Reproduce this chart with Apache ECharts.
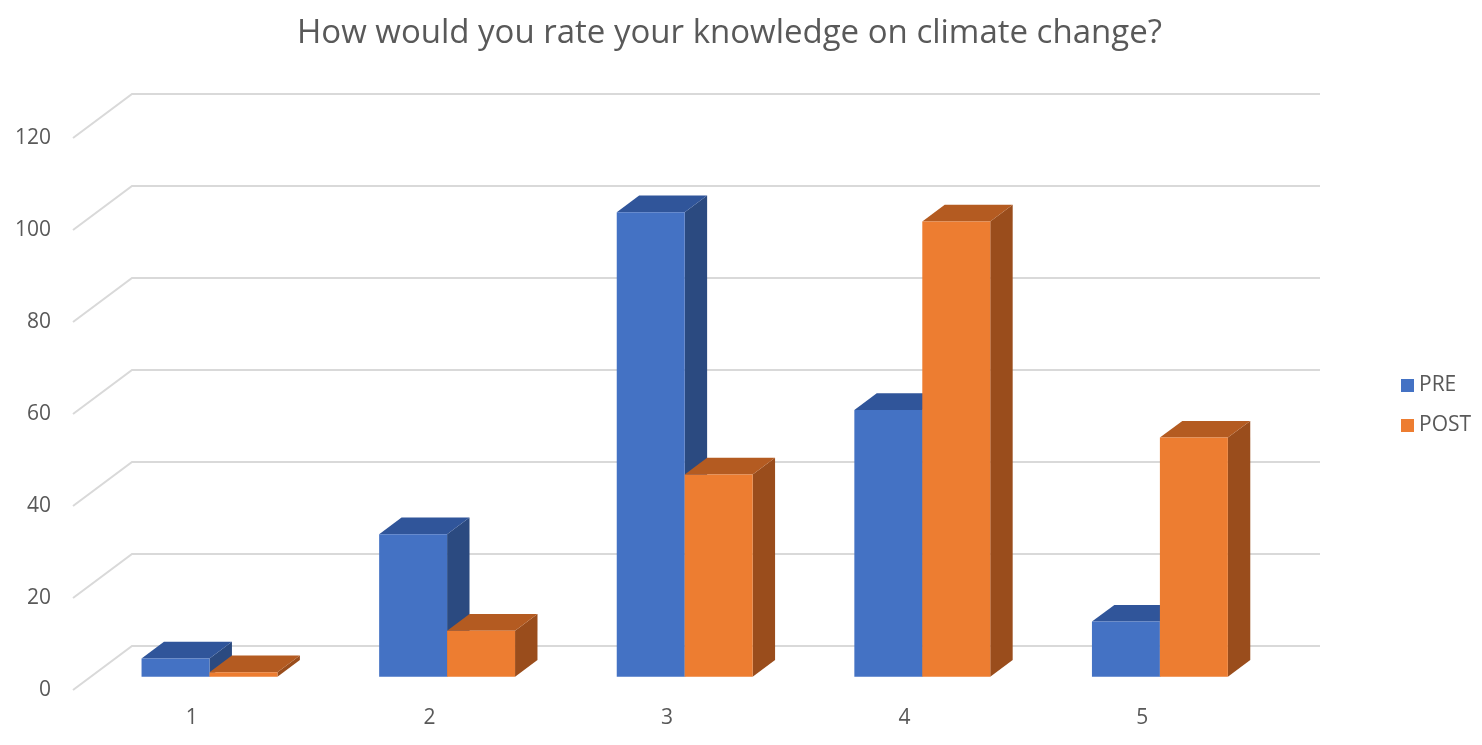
<!DOCTYPE html>
<html>
<head>
<meta charset="utf-8">
<script src="https://cdn.jsdelivr.net/npm/echarts@6/dist/echarts.min.js"></script>
<style>
html,body{margin:0;padding:0;background:#fff;}
#chart{width:1482px;height:745px;}
</style>
</head>
<body>
<div id="chart"></div>
<script>
const categories = ['1', '2', '3', '4', '5'];
const preValues = [4, 31, 101, 58, 12];
const postValues = [1, 10, 44, 99, 52];
const yTicks = [0, 20, 40, 60, 80, 100, 120];

const FONT = 'Open Sans';
const DX = 59, DY = -44;       // full depth of the 3D box (pixels)
const FRONT = 0.3, DEPTH = 0.38; // bar front plane and bar depth as fraction of full depth
const BAR_FRAC = 0.286;

const palettes = [
  { front: '#4472C4', top: '#30559A', side: '#2B4A80' },
  { front: '#ED7D31', top: '#B45B21', side: '#9A4D1C' }
];

function barRender(idx) {
  const pal = palettes[idx];
  return function (params, api) {
    const i = api.value(0), v = api.value(1);
    const base = api.coord([i, 0]);
    const top = api.coord([i, v]);
    const band = api.size([1, 0])[0];
    const w = band * BAR_FRAC;
    const fx = FRONT * DX, fy = FRONT * DY;
    const dx = DEPTH * DX, dy = DEPTH * DY;
    const x0 = base[0] + (idx === 0 ? -w : 0) + fx;
    const yT = top[1] + fy, yB = base[1] + fy;
    return {
      type: 'group',
      children: [
        { type: 'polygon', shape: { points: [[x0 + w, yT], [x0 + w + dx, yT + dy], [x0 + w + dx, yB + dy], [x0 + w, yB]] }, style: { fill: pal.side } },
        { type: 'polygon', shape: { points: [[x0, yT], [x0 + w, yT], [x0 + w + dx, yT + dy], [x0 + dx, yT + dy]] }, style: { fill: pal.top } },
        { type: 'rect', shape: { x: x0, y: yT, width: w, height: yB - yT }, style: { fill: pal.front } }
      ]
    };
  };
}

function gridRender(params, api) {
  const v = api.value(1);
  const band = api.size([1, 0])[0];
  const p0 = api.coord([0, v]);
  const pN = api.coord([categories.length - 1, v]);
  const xl = p0[0] - band / 2, xr = pN[0] + band / 2, y = p0[1];
  return {
    type: 'polyline',
    shape: { points: [[xl, y], [xl + DX, y + DY], [xr + DX, y + DY]] },
    style: { stroke: '#D9D9D9', lineWidth: 2, fill: null }
  };
}

const chart = echarts.init(document.getElementById('chart'));
chart.setOption({
  backgroundColor: '#fff',
  animation: false,
  title: {
    text: 'How would you rate your knowledge on climate change?',
    left: 292, top: 12,
    textStyle: { fontFamily: FONT, fontSize: 33, fontWeight: 'normal', color: '#595959' }
  },
  legend: {
    orient: 'vertical', left: 1396, top: 370, itemGap: 19,
    itemWidth: 13, itemHeight: 13, icon: 'rect',
    textStyle: { fontFamily: FONT, fontSize: 21, color: '#595959' },
    data: ['PRE', 'POST']
  },
  grid: { left: 73, right: 221, top: 138, bottom: 55, containLabel: false },
  xAxis: {
    type: 'category', data: categories,
    axisLine: { show: false }, axisTick: { show: false },
    axisLabel: { fontFamily: FONT, fontSize: 21, color: '#595959', margin: 18 }
  },
  yAxis: {
    type: 'value', min: 0, max: 120, interval: 20,
    axisLine: { show: false }, axisTick: { show: false }, splitLine: { show: false },
    axisLabel: { fontFamily: FONT, fontSize: 21, color: '#595959', margin: 22 }
  },
  series: [
    { type: 'custom', name: 'grid', silent: true, renderItem: gridRender, data: yTicks.map(t => [0, t]), z: 1 },
    { type: 'custom', name: 'PRE', renderItem: barRender(0), itemStyle: { color: palettes[0].front }, data: preValues.map((v, i) => [i, v]), z: 2 },
    { type: 'custom', name: 'POST', renderItem: barRender(1), itemStyle: { color: palettes[1].front }, data: postValues.map((v, i) => [i, v]), z: 3 }
  ]
});
</script>
</body>
</html>
